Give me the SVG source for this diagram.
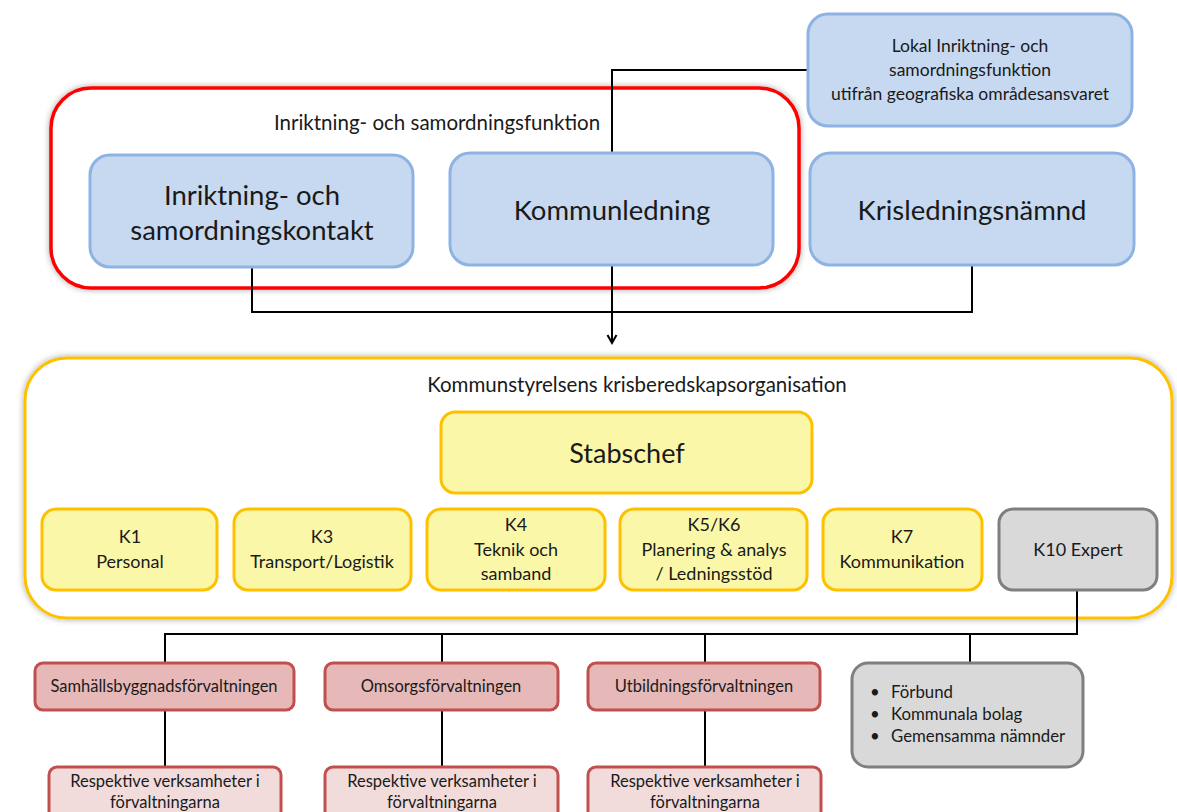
<svg xmlns="http://www.w3.org/2000/svg" width="1177" height="812" viewBox="0 0 1177 812">
<defs>
<filter id="sh" x="-5%" y="-10%" width="110%" height="120%">
<feDropShadow dx="0" dy="0" stdDeviation="3" flood-color="#000" flood-opacity="0.35"/>
</filter>
<marker id="arr" markerWidth="12" markerHeight="12" refX="10" refY="6" orient="auto" markerUnits="userSpaceOnUse">
<path d="M2,1.5 L10,6 L2,10.5" fill="none" stroke="#000" stroke-width="2"/>
</marker>
<style>
text{font-family:Lato,"Open Sans","Liberation Sans",sans-serif;fill:#1a1a1a;text-anchor:middle}
.blue{fill:#c6d9f1;stroke:#8db3e2;stroke-width:3}
.yel{fill:#faf8a8;stroke:#ffc000;stroke-width:3}
.gray{fill:#d9d9d9;stroke:#7f7f7f;stroke-width:3}
.red{fill:#e6b9b8;stroke:#c0504d;stroke-width:3}
.pink{fill:#f2dcdb;stroke:#c0504d;stroke-width:3}
.con{fill:none;stroke:#000;stroke-width:2}
.big{font-size:27.5px}
.ttl{font-size:20.5px}
.mid{font-size:18px}
.lok{font-size:17.5px}
.sm{font-size:16.5px}
.lst{font-size:16.8px;text-anchor:start}
</style>
</defs>
<rect width="1177" height="812" fill="#fff"/>

<g id="inriktningsfunktion">
<rect x="51" y="88" width="748" height="200" rx="40" fill="#fff" stroke="#ff0000" stroke-width="3.5" filter="url(#sh)"/>
<text x="437" y="130" class="ttl">Inriktning-  och samordningsfunktion</text>
</g>

<g id="krisberedskap">
<rect x="25" y="358" width="1147" height="260" rx="42" fill="#fff" stroke="#ffc000" stroke-width="3" filter="url(#sh)"/>
<text x="637" y="392" class="ttl">Kommunstyrelsens krisberedskapsorganisation</text>
</g>

<g id="connectors">
<polyline class="con" points="808,70 612,70 612,153"/>
<polyline class="con" points="612,265 612,343" marker-end="url(#arr)"/>
<polyline class="con" points="252,267 252,312 972,312 972,265"/>
<polyline class="con" points="1077,590 1077,634 165,634 165,663"/>
<line class="con" x1="442" y1="634" x2="442" y2="663"/>
<line class="con" x1="705" y1="634" x2="705" y2="663"/>
<line class="con" x1="970" y1="634" x2="970" y2="663"/>
<line class="con" x1="165" y1="710" x2="165" y2="767"/>
<line class="con" x1="442" y1="710" x2="442" y2="767"/>
<line class="con" x1="705" y1="710" x2="705" y2="767"/>
</g>

<g id="kontakt">
<rect class="blue" x="90" y="155" width="323" height="112" rx="20"/>
<text x="252" y="205" class="big">Inriktning- och</text>
<text x="252" y="240" class="big">samordningskontakt</text>
</g>
<g id="kommunledning">
<rect class="blue" x="450" y="153" width="323" height="112" rx="20"/>
<text x="612" y="220" class="big">Kommunledning</text>
</g>
<g id="lokal">
<rect class="blue" x="808" y="14" width="324" height="112" rx="20"/>
<text x="970" y="52" class="lok">Lokal Inriktning- och</text>
<text x="970" y="76" class="lok">samordningsfunktion</text>
<text x="970" y="100" class="lok">utifrån geografiska områdesansvaret</text>
</g>
<g id="krisledningsnamnd">
<rect class="blue" x="810" y="153" width="324" height="112" rx="20"/>
<text x="972" y="220" class="big">Krisledningsnämnd</text>
</g>

<g id="stabschef">
<rect class="yel" x="441" y="412" width="371" height="81" rx="14"/>
<text x="627" y="463" style="font-size:27px">Stabschef</text>
</g>
<g id="k1">
<rect class="yel" x="42" y="509" width="175" height="81" rx="14"/>
<text x="130" y="543" class="mid">K1</text>
<text x="130" y="568" class="mid">Personal</text>
</g>
<g id="k3">
<rect class="yel" x="234" y="509" width="177" height="81" rx="14"/>
<text x="322" y="543" class="mid">K3</text>
<text x="322" y="568" class="mid">Transport/Logistik</text>
</g>
<g id="k4">
<rect class="yel" x="427" y="509" width="178" height="81" rx="14"/>
<text x="516" y="531" class="mid">K4</text>
<text x="516" y="556" class="mid">Teknik och</text>
<text x="516" y="580" class="mid">samband</text>
</g>
<g id="k5k6">
<rect class="yel" x="620" y="509" width="187" height="81" rx="14"/>
<text x="714" y="531" class="mid">K5/K6</text>
<text x="714" y="556" class="mid">Planering &amp; analys</text>
<text x="714" y="580" class="mid">/ Ledningsstöd</text>
</g>
<g id="k7">
<rect class="yel" x="823" y="509" width="159" height="81" rx="14"/>
<text x="902" y="543" class="mid">K7</text>
<text x="902" y="568" class="mid">Kommunikation</text>
</g>
<g id="k10">
<rect class="gray" x="999" y="509" width="158" height="81" rx="14"/>
<text x="1078" y="556" class="mid">K10 Expert</text>
</g>

<g id="samhallsbyggnad">
<rect class="red" x="35" y="663" width="259" height="47" rx="8"/>
<text x="164" y="692" class="sm">Samhällsbyggnadsförvaltningen</text>
</g>
<g id="omsorg">
<rect class="red" x="325" y="663" width="233" height="47" rx="8"/>
<text x="441" y="692" class="sm">Omsorgsförvaltningen</text>
</g>
<g id="utbildning">
<rect class="red" x="588" y="663" width="232" height="47" rx="8"/>
<text x="704" y="692" class="sm">Utbildningsförvaltningen</text>
</g>
<g id="ovriga">
<rect class="gray" x="852" y="663" width="231" height="104" rx="16"/>
<text x="870" y="698" class="lst">•</text>
<text x="891" y="698" class="lst">Förbund</text>
<text x="870" y="720" class="lst">•</text>
<text x="891" y="720" class="lst">Kommunala bolag</text>
<text x="870" y="742" class="lst">•</text>
<text x="891" y="742" class="lst">Gemensamma nämnder</text>
</g>

<g id="verksamheter1">
<rect class="pink" x="49" y="767" width="232" height="60" rx="8"/>
<text x="165" y="787" class="sm">Respektive verksamheter i</text>
<text x="165" y="808" class="sm">förvaltningarna</text>
</g>
<g id="verksamheter2">
<rect class="pink" x="325" y="767" width="233" height="60" rx="8"/>
<text x="442" y="787" class="sm">Respektive verksamheter i</text>
<text x="442" y="808" class="sm">förvaltningarna</text>
</g>
<g id="verksamheter3">
<rect class="pink" x="588" y="767" width="233" height="60" rx="8"/>
<text x="705" y="787" class="sm">Respektive verksamheter i</text>
<text x="705" y="808" class="sm">förvaltningarna</text>
</g>
</svg>
